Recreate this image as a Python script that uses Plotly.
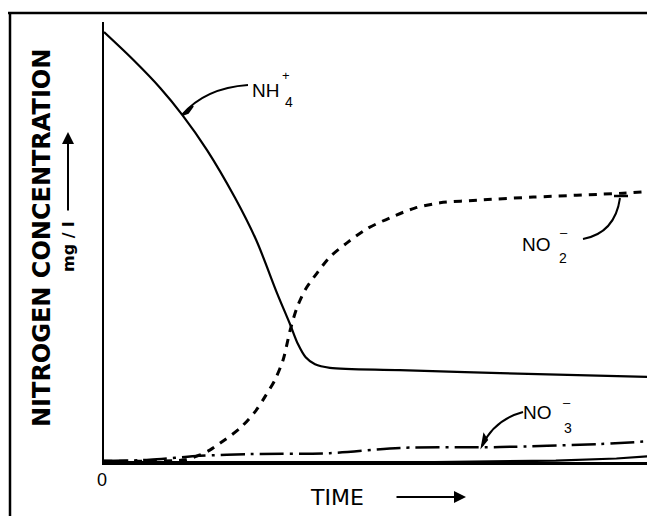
import plotly.graph_objects as go

# ---- data (arbitrary units) ----
time_nh4 = [0, 5.3, 10.2, 14.2, 18.7, 23.8, 27.6, 31.4, 33.8, 35.2, 36.6, 38.3, 41.0, 53.7, 71.9, 100]
conc_nh4 = [97.7, 91.4, 85.0, 78.9, 70.9, 60.0, 50.5, 38.4, 31.2, 26.8, 23.8, 22.2, 21.4, 20.9, 20.2, 19.3]

time_no2 = [0, 8.3, 14.7, 17.4, 19.2, 21.1, 24.7, 27.4, 29.2, 31.0, 32.5, 33.8, 35.0, 36.5, 38.7, 41.0, 44.1, 47.7, 51.9, 56.4, 61.0, 67.7, 77.9, 94.2, 100]
conc_no2 = [0.2, 0.2, 0.5, 1.6, 2.7, 4.3, 7.7, 11.4, 14.8, 18.6, 23.2, 30.0, 35.0, 39.1, 43.0, 46.6, 49.8, 53.0, 55.5, 57.7, 58.9, 59.5, 60.2, 61.1, 61.6]

time_no3 = [0, 8.3, 17.4, 26.5, 41.0, 53.7, 71.9, 90.0, 100]
conc_no3 = [0.2, 0.5, 1.4, 1.8, 2.0, 3.2, 3.4, 4.1, 4.8]

time_base = [0, 60, 82, 93, 100]
conc_base = [0, 0, 0.3, 0.8, 1.4]

# ---- geometry helpers (screen pixel -> paper / data); page body has an 8px margin ----
OFF = 8
W, H = 655 - OFF, 516 - OFF
SL, ST, SR, SB = 104, 22, 655, 462          # plot area in screen pixels
L, T = SL - OFF, ST - OFF
R = W - (SR - OFF)
B = H - (SB - OFF)
PW, PH = SR - SL, SB - ST

def px(x):
    return (x - SL) / PW

def py(y):
    return (SB - y) / PH

def dx(x):
    return (x - SL) / PW * 100

def dy(y):
    return (SB - y) / PH * 100

FONT = "Liberation Sans"

fig = go.Figure()
fig.add_trace(go.Scatter(x=time_base, y=conc_base, mode="lines",
                         line=dict(color="black", width=2.2), hoverinfo="skip"))
fig.add_trace(go.Scatter(x=time_nh4, y=conc_nh4, mode="lines", line_shape="spline",
                         line=dict(color="black", width=2.2, smoothing=0.9), name="NH4+"))
fig.add_trace(go.Scatter(x=time_no2, y=conc_no2, mode="lines", line_shape="spline",
                         line=dict(color="black", width=3, dash="8px,7px", smoothing=0.8), name="NO2-"))
fig.add_trace(go.Scatter(x=time_no3, y=conc_no3, mode="lines", line_shape="spline",
                         line=dict(color="black", width=2.5, dash="24px,6px,3px,6px", smoothing=0.8), name="NO3-"))

ann = []
def text(x, y, s, size, bold=False, angle=0, family=FONT):
    ann.append(dict(xref="paper", yref="paper", x=px(x), y=py(y), text=s, showarrow=False,
                    xanchor="center", yanchor="middle", textangle=angle,
                    font=dict(family=family, size=size, color="#000000",
                              weight="bold" if bold else "normal")))

text(42, 238, "NITROGEN CONCENTRATION", 24, bold=True, angle=-90, family="DejaVu Sans")
text(68, 247, "mg / l", 16, bold=True, angle=-90, family="DejaVu Sans")
text(102, 480, "0", 18)
text(337, 497, "TIME", 22, family="DejaVu Sans")
text(265, 90, "NH", 19)
text(289, 102, "4", 14)
text(286, 76, "+", 13)
text(536, 244, "NO", 19)
text(563, 258, "2", 14)
text(564, 232, "\u2013", 13)
text(537, 412, "NO", 19)
text(568, 428, "3", 14)
text(567, 402, "\u2013", 13)

# axis arrows
ann.append(dict(xref="paper", yref="paper", x=px(68), y=py(132), ax=0, ay=80,
                text="", showarrow=True, arrowhead=2, arrowsize=1.2, arrowwidth=2, arrowcolor="black"))
ann.append(dict(xref="paper", yref="paper", x=px(466), y=py(497), ax=-71, ay=0,
                text="", showarrow=True, arrowhead=2, arrowsize=1.2, arrowwidth=2, arrowcolor="black"))

shapes = []
# frame
shapes.append(dict(type="line", xref="paper", yref="paper", x0=px(8), x1=px(660), y0=py(13), y1=py(13),
                   line=dict(color="black", width=2.5)))
shapes.append(dict(type="line", xref="paper", yref="paper", x0=px(10), x1=px(10), y0=py(13), y1=py(530),
                   line=dict(color="black", width=2.5)))
shapes.append(dict(type="line", xref="paper", yref="paper", x0=px(653), x1=px(653), y0=py(150), y1=py(530),
                   line=dict(color="#dddddd", width=1, dash="dot")))

# leader curves
def qpath(p0, c, p1):
    return "M {} {} Q {} {} {} {}".format(dx(p0[0]), dy(p0[1]), dx(c[0]), dy(c[1]), dx(p1[0]), dy(p1[1]))

shapes.append(dict(type="path", xref="x", yref="y", path=qpath((248, 85), (205, 88), (182, 115)),
                   line=dict(color="black", width=2)))
shapes.append(dict(type="path", xref="x", yref="y", path=qpath((583, 239), (615, 233), (620, 198)),
                   line=dict(color="black", width=2)))
shapes.append(dict(type="path", xref="x", yref="y", path=qpath((523, 412), (494, 420), (482, 446)),
                   line=dict(color="black", width=2)))

def tri(pts):
    s = "M {} {}".format(dx(pts[0][0]), dy(pts[0][1]))
    for p in pts[1:]:
        s += " L {} {}".format(dx(p[0]), dy(p[1]))
    return s + " Z"

shapes.append(dict(type="path", xref="x", yref="y", path=tri([(182, 115), (193, 106), (188, 113)]),
                   line=dict(color="black", width=2), fillcolor="black"))
shapes.append(dict(type="path", xref="x", yref="y", path=tri([(482, 446), (484, 435), (487, 440)]),
                   line=dict(color="black", width=2), fillcolor="black"))
shapes.append(dict(type="line", xref="x", yref="y", x0=dx(614), x1=dx(628), y0=dy(196), y1=dy(196),
                   line=dict(color="black", width=2.5)))

fig.update_layout(
    width=W, height=H, autosize=False,
    margin=dict(l=L, r=R, t=T, b=B, pad=0),
    paper_bgcolor="white", plot_bgcolor="white",
    showlegend=False,
    annotations=ann, shapes=shapes,
    xaxis=dict(range=[0, 100], showgrid=False, zeroline=False, showticklabels=False, ticks="",
               showline=True, linecolor="black", linewidth=2.5),
    yaxis=dict(range=[0, 100], showgrid=False, zeroline=False, showticklabels=False, ticks="",
               showline=True, linecolor="black", linewidth=2),
)

fig.write_html("out.html", config={"displayModeBar": False})
